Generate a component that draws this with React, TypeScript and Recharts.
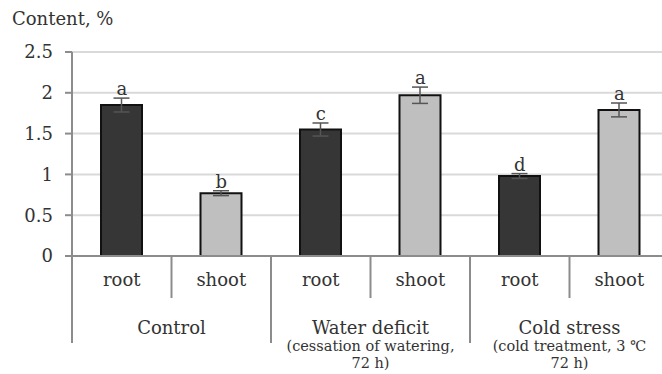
import { Bar, Cell, ComposedChart, CartesianGrid, ErrorBar, LabelList, Line, XAxis, YAxis } from 'recharts';

const parts = ['root', 'shoot', 'root', 'shoot', 'root', 'shoot'];
const groups = ['Control', 'Water deficit', 'Cold stress'];
const groupNotes = [[], ['(cessation of watering,', '72 h)'], ['(cold treatment, 3 \u2103', '72 h)']];
const values = [1.85, 0.77, 1.55, 1.97, 0.98, 1.79];
const errors = [0.085, 0.03, 0.08, 0.1, 0.03, 0.085];
const letters = ['a', 'b', 'c', 'a', 'd', 'a'];
const yTicks = [0, 0.5, 1, 1.5, 2, 2.5];

const data = parts.map((part, i) => ({
  id: i,
  part,
  value: values[i],
  err: errors[i],
  top: values[i] + errors[i],
  sig: letters[i],
}));

const FONT = 'DejaVu Serif';
const CHART_W = 672;
const CHART_H = 374;
const Y_W = 72;
const RIGHT = 3;
const BAND = (CHART_W - Y_W - RIGHT) / parts.length;
const SEP = '#8c8c8c';
const TEXT = '#333333';

function PartTick(props: any) {
  const { x, y, payload } = props;
  const i = payload.index;
  const odd = i % 2 === 1;
  const g = Math.floor(i / 2);
  const cx = x - BAND / 2;
  return (
    <g>
      <text x={x} y={y + 30} textAnchor="middle" fontFamily={FONT} fontSize={18} fill={TEXT}>
        {parts[i]}
      </text>
      <line x1={x + BAND / 2} y1={y} x2={x + BAND / 2} y2={y + (odd ? 87 : 42)} stroke={SEP} strokeWidth={2} />
      {i === 0 && <line x1={x - BAND / 2} y1={y} x2={x - BAND / 2} y2={y + 87} stroke={SEP} strokeWidth={2} />}
      {odd && (
        <text x={cx} y={y + 78} textAnchor="middle" fontFamily={FONT} fontSize={18} fill={TEXT}>
          {groups[g]}
        </text>
      )}
      {odd &&
        groupNotes[g].map((line, k) => (
          <text
            key={k}
            x={cx}
            y={y + 95 + k * 17}
            textAnchor="middle"
            fontFamily={FONT}
            fontSize={14.5}
            fill={TEXT}
          >
            {line}
          </text>
        ))}
    </g>
  );
}

export default function App() {
  return (
    <div style={{ position: 'absolute', left: 0, top: 0, width: 662, height: 374, overflow: 'hidden', background: '#fff' }}>
      <div
        style={{
          position: 'absolute',
          left: 12,
          top: 10,
          fontFamily: FONT,
          fontSize: 18,
          lineHeight: '18px',
          color: TEXT,
          whiteSpace: 'nowrap',
        }}
      >
        Content, %
      </div>
      <ComposedChart
        width={CHART_W}
        height={CHART_H}
        data={data}
        margin={{ top: 52, right: RIGHT, bottom: 0, left: 0 }}
      >
        <CartesianGrid vertical={false} stroke="#d9d9d9" strokeWidth={2} />
        <XAxis
          dataKey="id"
          height={118}
          tickLine={false}
          tickSize={0}
          tickMargin={0}
          axisLine={{ stroke: SEP, strokeWidth: 2 }}
          tick={<PartTick />}
          interval={0}
        />
        <YAxis
          width={Y_W}
          domain={[0, 2.5]}
          ticks={yTicks}
          tickSize={7}
          tickMargin={12}
          axisLine={{ stroke: SEP, strokeWidth: 2 }}
          tickLine={{ stroke: SEP, strokeWidth: 2 }}
          tick={{ fontFamily: FONT, fontSize: 18, fill: TEXT }}
        />
        <Bar dataKey="value" barSize={41} stroke="#111" strokeWidth={2} isAnimationActive={false}>
          {data.map((d) => (
            <Cell key={d.id} fill={d.part === 'root' ? '#363636' : '#bfbfbf'} />
          ))}
          <ErrorBar dataKey="err" width={8} stroke="#555" strokeWidth={1.5} direction="y" />
        </Bar>
        <Line dataKey="top" stroke="none" dot={false} activeDot={false} isAnimationActive={false}>
          <LabelList dataKey="sig" position="top" offset={3} fontFamily={FONT} fontSize={18} fill={TEXT} />
        </Line>
      </ComposedChart>
    </div>
  );
}
